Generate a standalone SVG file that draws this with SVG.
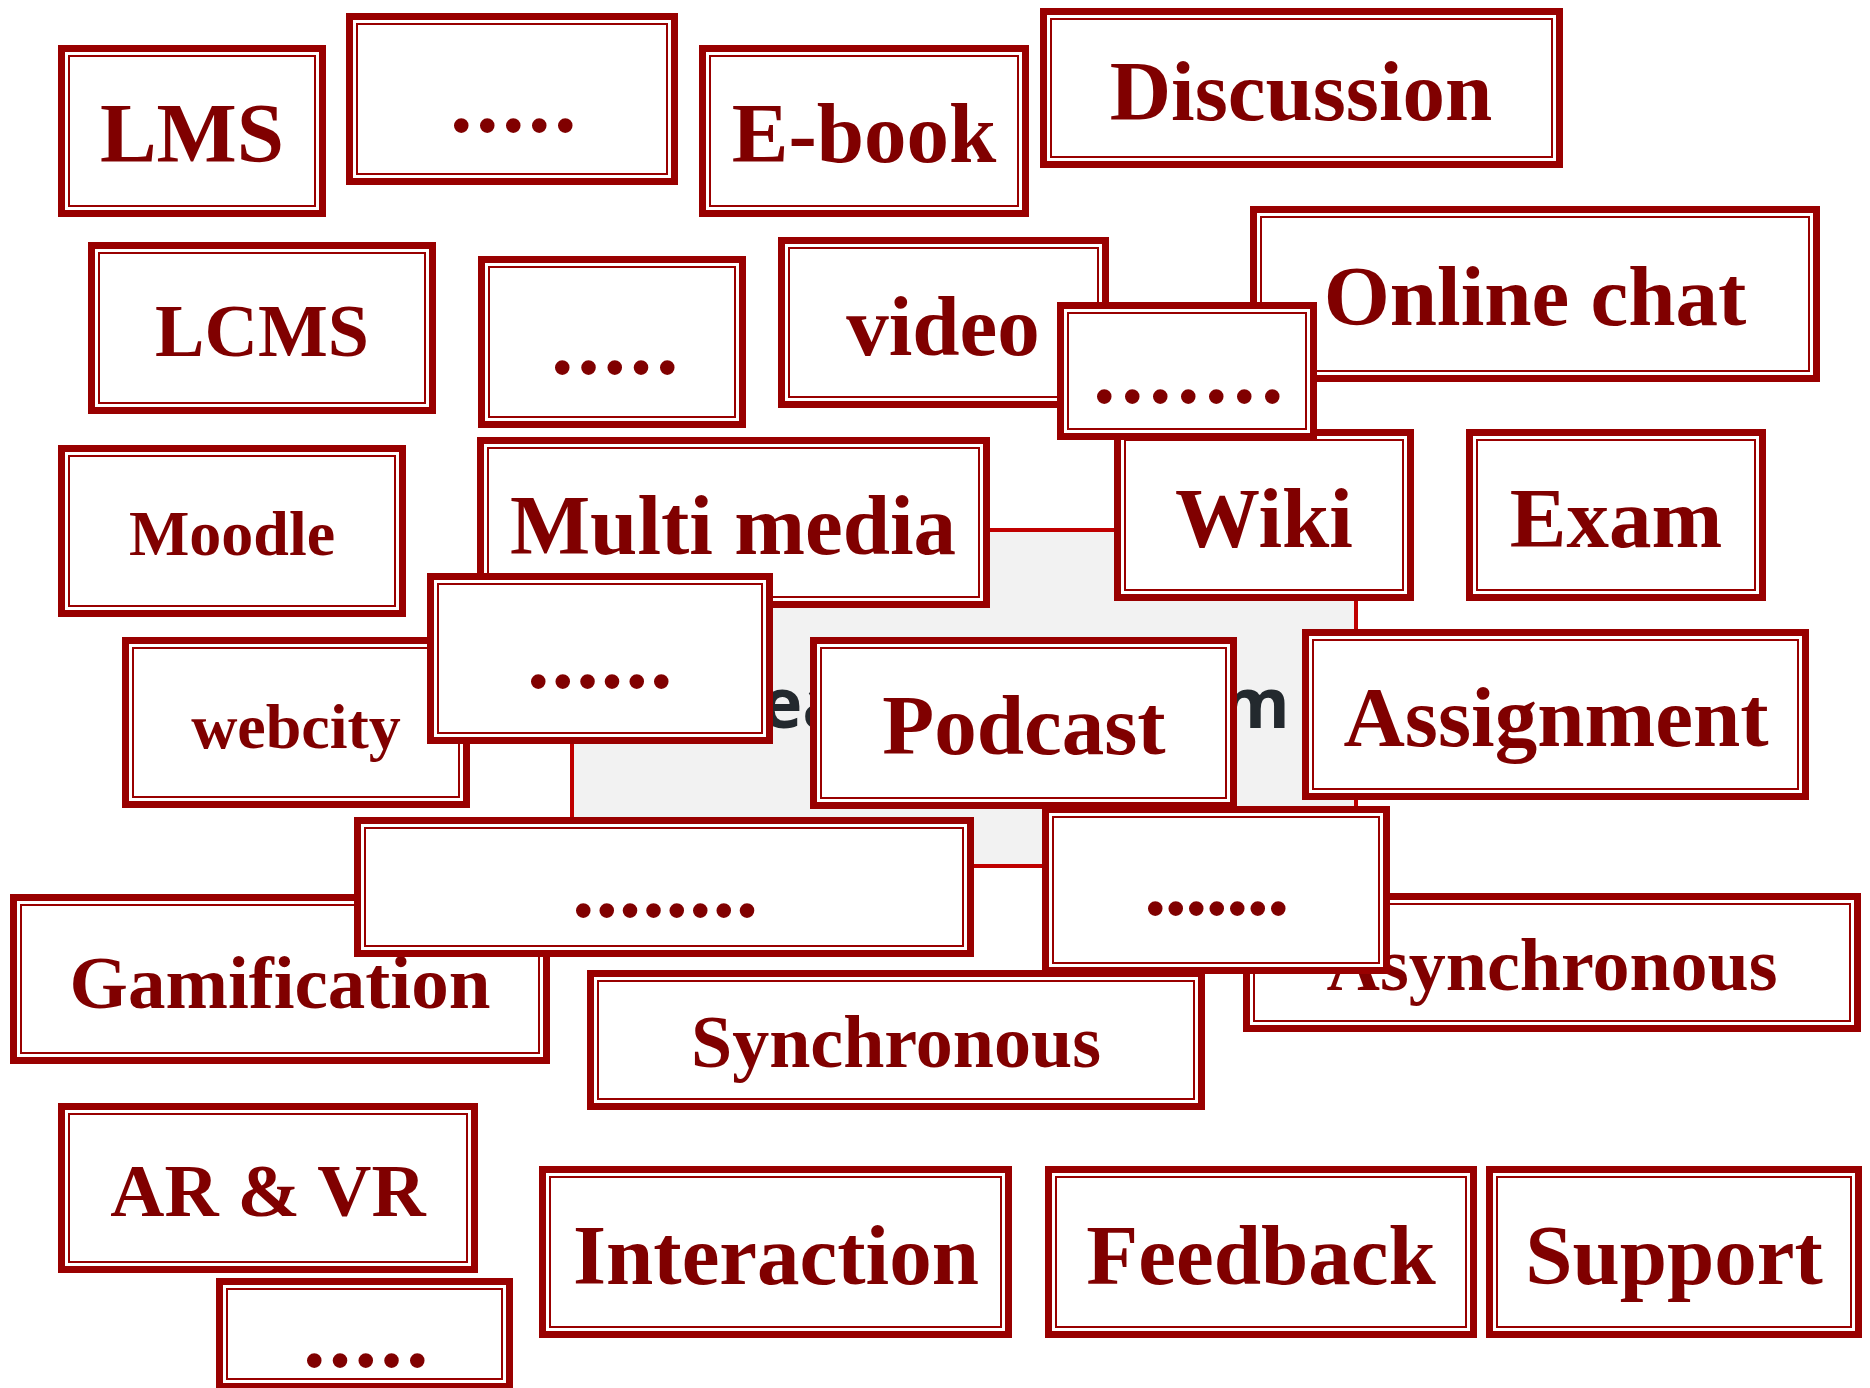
<svg xmlns="http://www.w3.org/2000/svg" width="1870" height="1388" viewBox="0 0 1870 1388">
<style>
.o{fill:#fff;stroke:#990000;stroke-width:7}
.i{fill:none;stroke:#990000;stroke-width:2}
.t{font-family:"Liberation Serif","Times New Roman",serif;font-weight:bold;fill:#800000;text-anchor:middle}
.d{font-family:"Liberation Serif","Times New Roman",serif;font-weight:bold;fill:#800000;font-size:90px}
.c{font-family:"Open Sans","Liberation Sans",sans-serif;font-weight:bold;fill:#23292e;font-size:70px}
.ln{stroke:#c00000;stroke-width:4;fill:none}
</style>
<rect width="1870" height="1388" fill="#fff"/>
<g id="center">
<rect x="572" y="530" width="784" height="336" fill="#f2f2f2"/>
<text class="c" x="761" y="728">ea</text>
<text class="c" x="1221" y="728">m</text>
</g>
<g id="connectors">
<rect class="ln" x="572" y="530" width="784" height="336"/>
</g>
<g id="lms"><rect class="o" x="61.5" y="48.5" width="261" height="165"/><rect class="i" x="69" y="56" width="246" height="150"/><text class="t" x="192" y="162" font-size="85">LMS</text></g>
<g id="dots1"><rect class="o" x="349.5" y="16.5" width="325" height="165"/><rect class="i" x="357" y="24" width="310" height="150"/><text class="d" x="450" y="132" letter-spacing="3.5">.....</text></g>
<g id="ebook"><rect class="o" x="702.5" y="48.5" width="323" height="165"/><rect class="i" x="710" y="56" width="308" height="150"/><text class="t" x="864" y="162" font-size="85">E-book</text></g>
<g id="discussion"><rect class="o" x="1043.5" y="11.5" width="516" height="153"/><rect class="i" x="1051" y="19" width="501" height="138"/><text class="t" x="1301" y="120" font-size="85">Discussion</text></g>
<g id="lcms"><rect class="o" x="91.5" y="245.5" width="341" height="165"/><rect class="i" x="99" y="253" width="326" height="150"/><text class="t" x="262" y="356" font-size="74">LCMS</text></g>
<g id="dots2"><rect class="o" x="481.5" y="259.5" width="261" height="165"/><rect class="i" x="489" y="267" width="246" height="150"/><text class="d" x="551" y="374" letter-spacing="3.75">.....</text></g>
<g id="video"><rect class="o" x="781.5" y="240.5" width="324" height="164"/><rect class="i" x="789" y="248" width="309" height="149"/><text class="t" x="943" y="355" font-size="85">video</text></g>
<g id="onlinechat"><rect class="o" x="1253.5" y="209.5" width="563" height="169"/><rect class="i" x="1261" y="217" width="548" height="154"/><text class="t" x="1535" y="325" font-size="85">Online chat</text></g>
<g id="wiki"><rect class="o" x="1117.5" y="432.5" width="293" height="165"/><rect class="i" x="1125" y="440" width="278" height="150"/><text class="t" x="1264" y="547" font-size="85">Wiki</text></g>
<g id="exam"><rect class="o" x="1469.5" y="432.5" width="293" height="165"/><rect class="i" x="1477" y="440" width="278" height="150"/><text class="t" x="1616" y="547" font-size="85">Exam</text></g>
<g id="dots3"><rect class="o" x="1060.5" y="305.5" width="253" height="131"/><rect class="i" x="1068" y="313" width="238" height="116"/><text class="d" x="1093" y="403" letter-spacing="5.5">.......</text></g>
<g id="moodle"><rect class="o" x="61.5" y="448.5" width="341" height="165"/><rect class="i" x="69" y="456" width="326" height="150"/><text class="t" x="232" y="555" font-size="64">Moodle</text></g>
<g id="multimedia"><rect class="o" x="480.5" y="440.5" width="506" height="164"/><rect class="i" x="488" y="448" width="491" height="149"/><text class="t" x="733" y="554" font-size="85">Multi media</text></g>
<g id="webcity"><rect class="o" x="125.5" y="640.5" width="341" height="164"/><rect class="i" x="133" y="648" width="326" height="149"/><text class="t" x="296" y="748" font-size="64">webcity</text></g>
<g id="podcast"><rect class="o" x="813.5" y="640.5" width="420" height="165"/><rect class="i" x="821" y="648" width="405" height="150"/><text class="t" x="1024" y="754" font-size="85">Podcast</text></g>
<g id="assignment"><rect class="o" x="1305.5" y="632.5" width="500" height="164"/><rect class="i" x="1313" y="640" width="485" height="149"/><text class="t" x="1556" y="746" font-size="85">Assignment</text></g>
<g id="dots4"><rect class="o" x="430.5" y="576.5" width="339" height="164"/><rect class="i" x="438" y="584" width="324" height="149"/><text class="d" x="527" y="688" letter-spacing="2.1">......</text></g>
<g id="asynchronous"><rect class="o" x="1246.5" y="896.5" width="611" height="132"/><rect class="i" x="1254" y="904" width="596" height="117"/><text class="t" x="1552" y="990" font-size="74">Asynchronous</text></g>
<g id="gamification"><rect class="o" x="13.5" y="897.5" width="533" height="163"/><rect class="i" x="21" y="905" width="518" height="148"/><text class="t" x="280" y="1008" font-size="75">Gamification</text></g>
<g id="dots5"><rect class="o" x="357.5" y="820.5" width="613" height="133"/><rect class="i" x="365" y="828" width="598" height="118"/><text class="d" x="572" y="917" letter-spacing="0.9">........</text></g>
<g id="dots6"><rect class="o" x="1045.5" y="809.5" width="341" height="161"/><rect class="i" x="1053" y="817" width="326" height="146"/><text class="d" x="1144" y="915" letter-spacing="-2">.......</text></g>
<g id="synchronous"><rect class="o" x="590.5" y="973.5" width="611" height="133"/><rect class="i" x="598" y="981" width="596" height="118"/><text class="t" x="896" y="1067" font-size="74">Synchronous</text></g>
<g id="arvr"><rect class="o" x="61.5" y="1106.5" width="413" height="163"/><rect class="i" x="69" y="1114" width="398" height="148"/><text class="t" x="268" y="1216" font-size="75">AR &amp; VR</text></g>
<g id="dots7"><rect class="o" x="219.5" y="1281.5" width="290" height="105"/><rect class="i" x="227" y="1289" width="275" height="90"/><text class="d" x="303" y="1367" letter-spacing="3.25">.....</text></g>
<g id="interaction"><rect class="o" x="542.5" y="1169.5" width="466" height="165"/><rect class="i" x="550" y="1177" width="451" height="150"/><text class="t" x="776" y="1284" font-size="85">Interaction</text></g>
<g id="feedback"><rect class="o" x="1048.5" y="1169.5" width="425" height="165"/><rect class="i" x="1056" y="1177" width="410" height="150"/><text class="t" x="1261" y="1284" font-size="85">Feedback</text></g>
<g id="support"><rect class="o" x="1489.5" y="1169.5" width="369" height="165"/><rect class="i" x="1497" y="1177" width="354" height="150"/><text class="t" x="1674" y="1284" font-size="85">Support</text></g>
</svg>
